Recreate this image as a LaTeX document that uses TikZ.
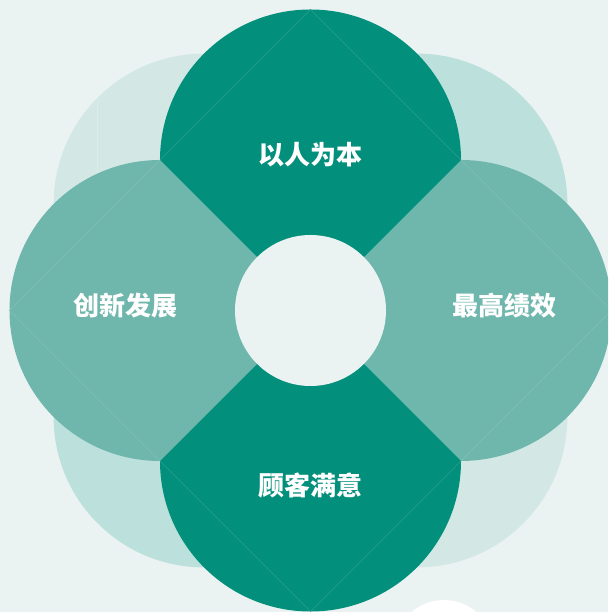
\documentclass[tikz,border=0pt]{standalone}
\usepackage{fontspec}
\usetikzlibrary{calc}
\newfontfamily\cjk{Noto Sans CJK SC}
\definecolor{bgc}{HTML}{EBF3F2}
\definecolor{darkc}{HTML}{028F7B}
\definecolor{midc}{HTML}{6FB7AC}
\definecolor{lightA}{HTML}{BCE0DC}
\definecolor{lightB}{HTML}{D3E8E5}
\definecolor{seamdark}{HTML}{2C9F8D}
\definecolor{seammid}{HTML}{80C0B6}
\definecolor{seamlight}{HTML}{DAECE9}
\tikzset{
  lbl/.style={text=white, font=\cjk\bfseries\fontsize{26}{26}\selectfont, inner sep=0pt},
  seamD/.style={draw=seamdark, line width=0.5pt},
  seamM/.style={draw=seammid, line width=0.5pt},
  seamL/.style={draw=seamlight, line width=0.6pt}
}
\begin{document}
\begin{tikzpicture}[x=1pt,y=1pt]
\def\R{150.5}
\useasboundingbox (0,0) rectangle (608,612);
\clip (0,0) rectangle (608,612);
\fill[bgc] (0,0) rectangle (608,612);
\coordinate (C) at (310.5,301.5);
% light rotated petals
\fill[lightB] ($(C)+(135:\R)+(45:\R)$) arc[start angle=45,end angle=225,radius=\R] -- (C) -- cycle;
\fill[lightA] ($(C)+(45:\R)+(-45:\R)$) arc[start angle=-45,end angle=135,radius=\R] -- (C) -- cycle;
\fill[lightA] ($(C)+(225:\R)+(135:\R)$) arc[start angle=135,end angle=315,radius=\R] -- (C) -- cycle;
\fill[lightB] ($(C)+(315:\R)+(225:\R)$) arc[start angle=225,end angle=405,radius=\R] -- (C) -- cycle;
\draw[seamL] (97.6,514.3) -- (97.6,400);
% main petals
\coordinate (TL) at (160,452);
\coordinate (TR) at (461,452);
\coordinate (BL) at (160,151);
\coordinate (BR) at (461,151);
\fill[midc] (TL) arc[start angle=90,end angle=270,radius=\R] -- (C) -- cycle;
\fill[midc] (BR) arc[start angle=-90,end angle=90,radius=\R] -- (C) -- cycle;
\fill[darkc] (TL) arc[start angle=180,end angle=0,radius=\R] -- (C) -- cycle;
\fill[darkc] (BR) arc[start angle=0,end angle=-180,radius=\R] -- (C) -- cycle;
% seams
\draw[seamD] (TL) -- (310.5,602.5) -- (TR);
\draw[seamD] (BL) -- (310.5,0.5) -- (BR);
\draw[seamM] (TL) -- (9.5,301.5) -- (BL);
\draw[seamM] (TR) -- (611.5,301.5) -- (BR);
% centre hole
\fill[bgc] (C) circle[radius=75.5];
% white partial circle at bottom
\fill[white] (444,-38) circle[radius=50];
% labels
\node[lbl] (t) at (310.5,457) {以人为本};
\node[lbl] (l) at (125,306.5) {创新发展};
\node[lbl] (r) at (504,306.5) {最高绩效};
\node[lbl] (b) at (310.5,126) {顾客满意};
\end{tikzpicture}
\end{document}
